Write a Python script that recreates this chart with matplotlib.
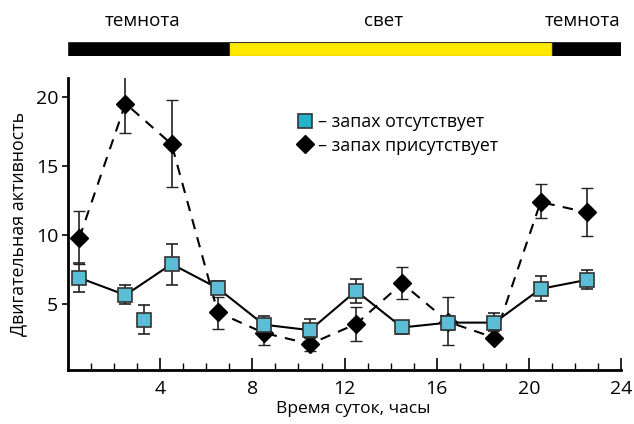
import matplotlib
matplotlib.use('Agg')
import matplotlib.pyplot as plt
from matplotlib.ticker import MultipleLocator
from matplotlib.lines import Line2D

plt.rcParams['font.family'] = ['Open Sans', 'DejaVu Sans']

# время (часы)
hours = [0.5, 2.5, 4.5, 6.5, 8.5, 10.5, 12.5, 14.5, 16.5, 18.5, 20.5, 22.5]

# запах отсутствует
no_odor = [6.9, 5.65, 7.9, 6.15, 3.5, 3.1, 5.95, 3.3, 3.65, 3.65, 6.1, 6.75]
no_odor_lo = [1.0, 0.65, 1.5, 0.45, 0.4, 0.6, 0.85, 0.5, 0.5, 0.6, 0.9, 0.65]
no_odor_hi = [1.1, 0.75, 1.45, 0.55, 0.6, 0.8, 0.85, 0.5, 0.5, 0.7, 0.9, 0.7]
extra_hour = [3.3]
extra_val = [3.85]
extra_err = [1.05]

# запах присутствует
odor = [9.8, 19.55, 16.6, 4.4, 2.9, 2.1, 3.55, 6.5, 3.7, 2.55, 12.4, 11.65]
odor_lo = [1.9, 2.15, 3.1, 1.2, 0.9, 0.5, 1.25, 1.15, 1.7, 0.2, 1.15, 1.75]
odor_hi = [1.95, 2.25, 3.2, 1.1, 0.9, 0.5, 1.25, 1.15, 1.8, 0.2, 1.3, 1.75]

# световой режим
phases = [(0, 7, 'black'), (7, 21, '#ffe800'), (21, 24, 'black')]
phase_labels = [(3.25, 'темнота'), (13.7, 'свет'), (22.3, 'темнота')]

sq_color = '#5bbdd6'
sq_legend = '#22b4c9'

fig = plt.figure(figsize=(6.34, 4.24), dpi=100)
ax = fig.add_axes([0.107, 0.127, 0.873, 0.689])

ax.errorbar(hours, odor, yerr=[odor_lo, odor_hi], color='black', ls=(0, (5, 4)),
            lw=1.5, marker='D', ms=9, mfc='black', mec='black',
            ecolor='#222222', elinewidth=1.2, capsize=4, zorder=2)
ax.errorbar(hours, no_odor, yerr=[no_odor_lo, no_odor_hi], color='black', ls='-',
            lw=1.5, marker='s', ms=10, mfc=sq_color, mec='#333333', mew=1.2,
            ecolor='#222222', elinewidth=1.2, capsize=4, zorder=3)
ax.errorbar(extra_hour, extra_val, yerr=extra_err, ls='none',
            marker='s', ms=10, mfc=sq_color, mec='#333333', mew=1.2,
            ecolor='#222222', elinewidth=1.2, capsize=4, zorder=3)

ax.set_xlim(0, 24)
ax.set_ylim(0.2, 21.4)
ax.xaxis.set_minor_locator(MultipleLocator(1))
ax.set_xticks([4, 8, 12, 16, 20, 24])
ax.set_yticks([5, 10, 15, 20])
ax.tick_params(axis='x', which='major', direction='in', length=9, width=1.2, labelsize=14, pad=7)
ax.tick_params(axis='x', which='minor', direction='in', length=5, width=1.0)
ax.tick_params(axis='y', direction='out', length=4, width=1.2, labelsize=14, pad=3)
for s in ['top', 'right']:
    ax.spines[s].set_visible(False)
for s in ['left', 'bottom']:
    ax.spines[s].set_linewidth(2)

ax.set_xlabel('Время суток, часы', fontsize=12.5, labelpad=2)
ax.xaxis.label.set_x(0.515)
ax.set_ylabel('Двигательная активность', fontsize=12.8, labelpad=6)

handles = [
    Line2D([], [], ls='none', marker='s', ms=10, mfc=sq_legend, mec='#333333', mew=1.2),
    Line2D([], [], ls='none', marker='D', ms=9, mfc='black', mec='black'),
]
ax.legend(handles, ['– запах отсутствует', '– запах присутствует'], loc='upper left',
          bbox_to_anchor=(0.4, 0.91), frameon=False, fontsize=12.8,
          handlelength=0.8, handletextpad=0.3, labelspacing=0.3, borderpad=0)

# полоса свет/темнота
bar_ax = fig.add_axes([0.107, 0.868, 0.873, 0.033])
for start, end, col in phases:
    bar_ax.barh(0, end - start, left=start, height=1, color=col, edgecolor='#333333', lw=0.8)
bar_ax.set_xlim(0, 24)
bar_ax.set_ylim(-0.5, 0.5)
bar_ax.axis('off')
for xpos, txt in phase_labels:
    bar_ax.text(xpos, 2.0, txt, ha='center', va='center', fontsize=13.5)

fig.savefig('out.png', dpi=100)
